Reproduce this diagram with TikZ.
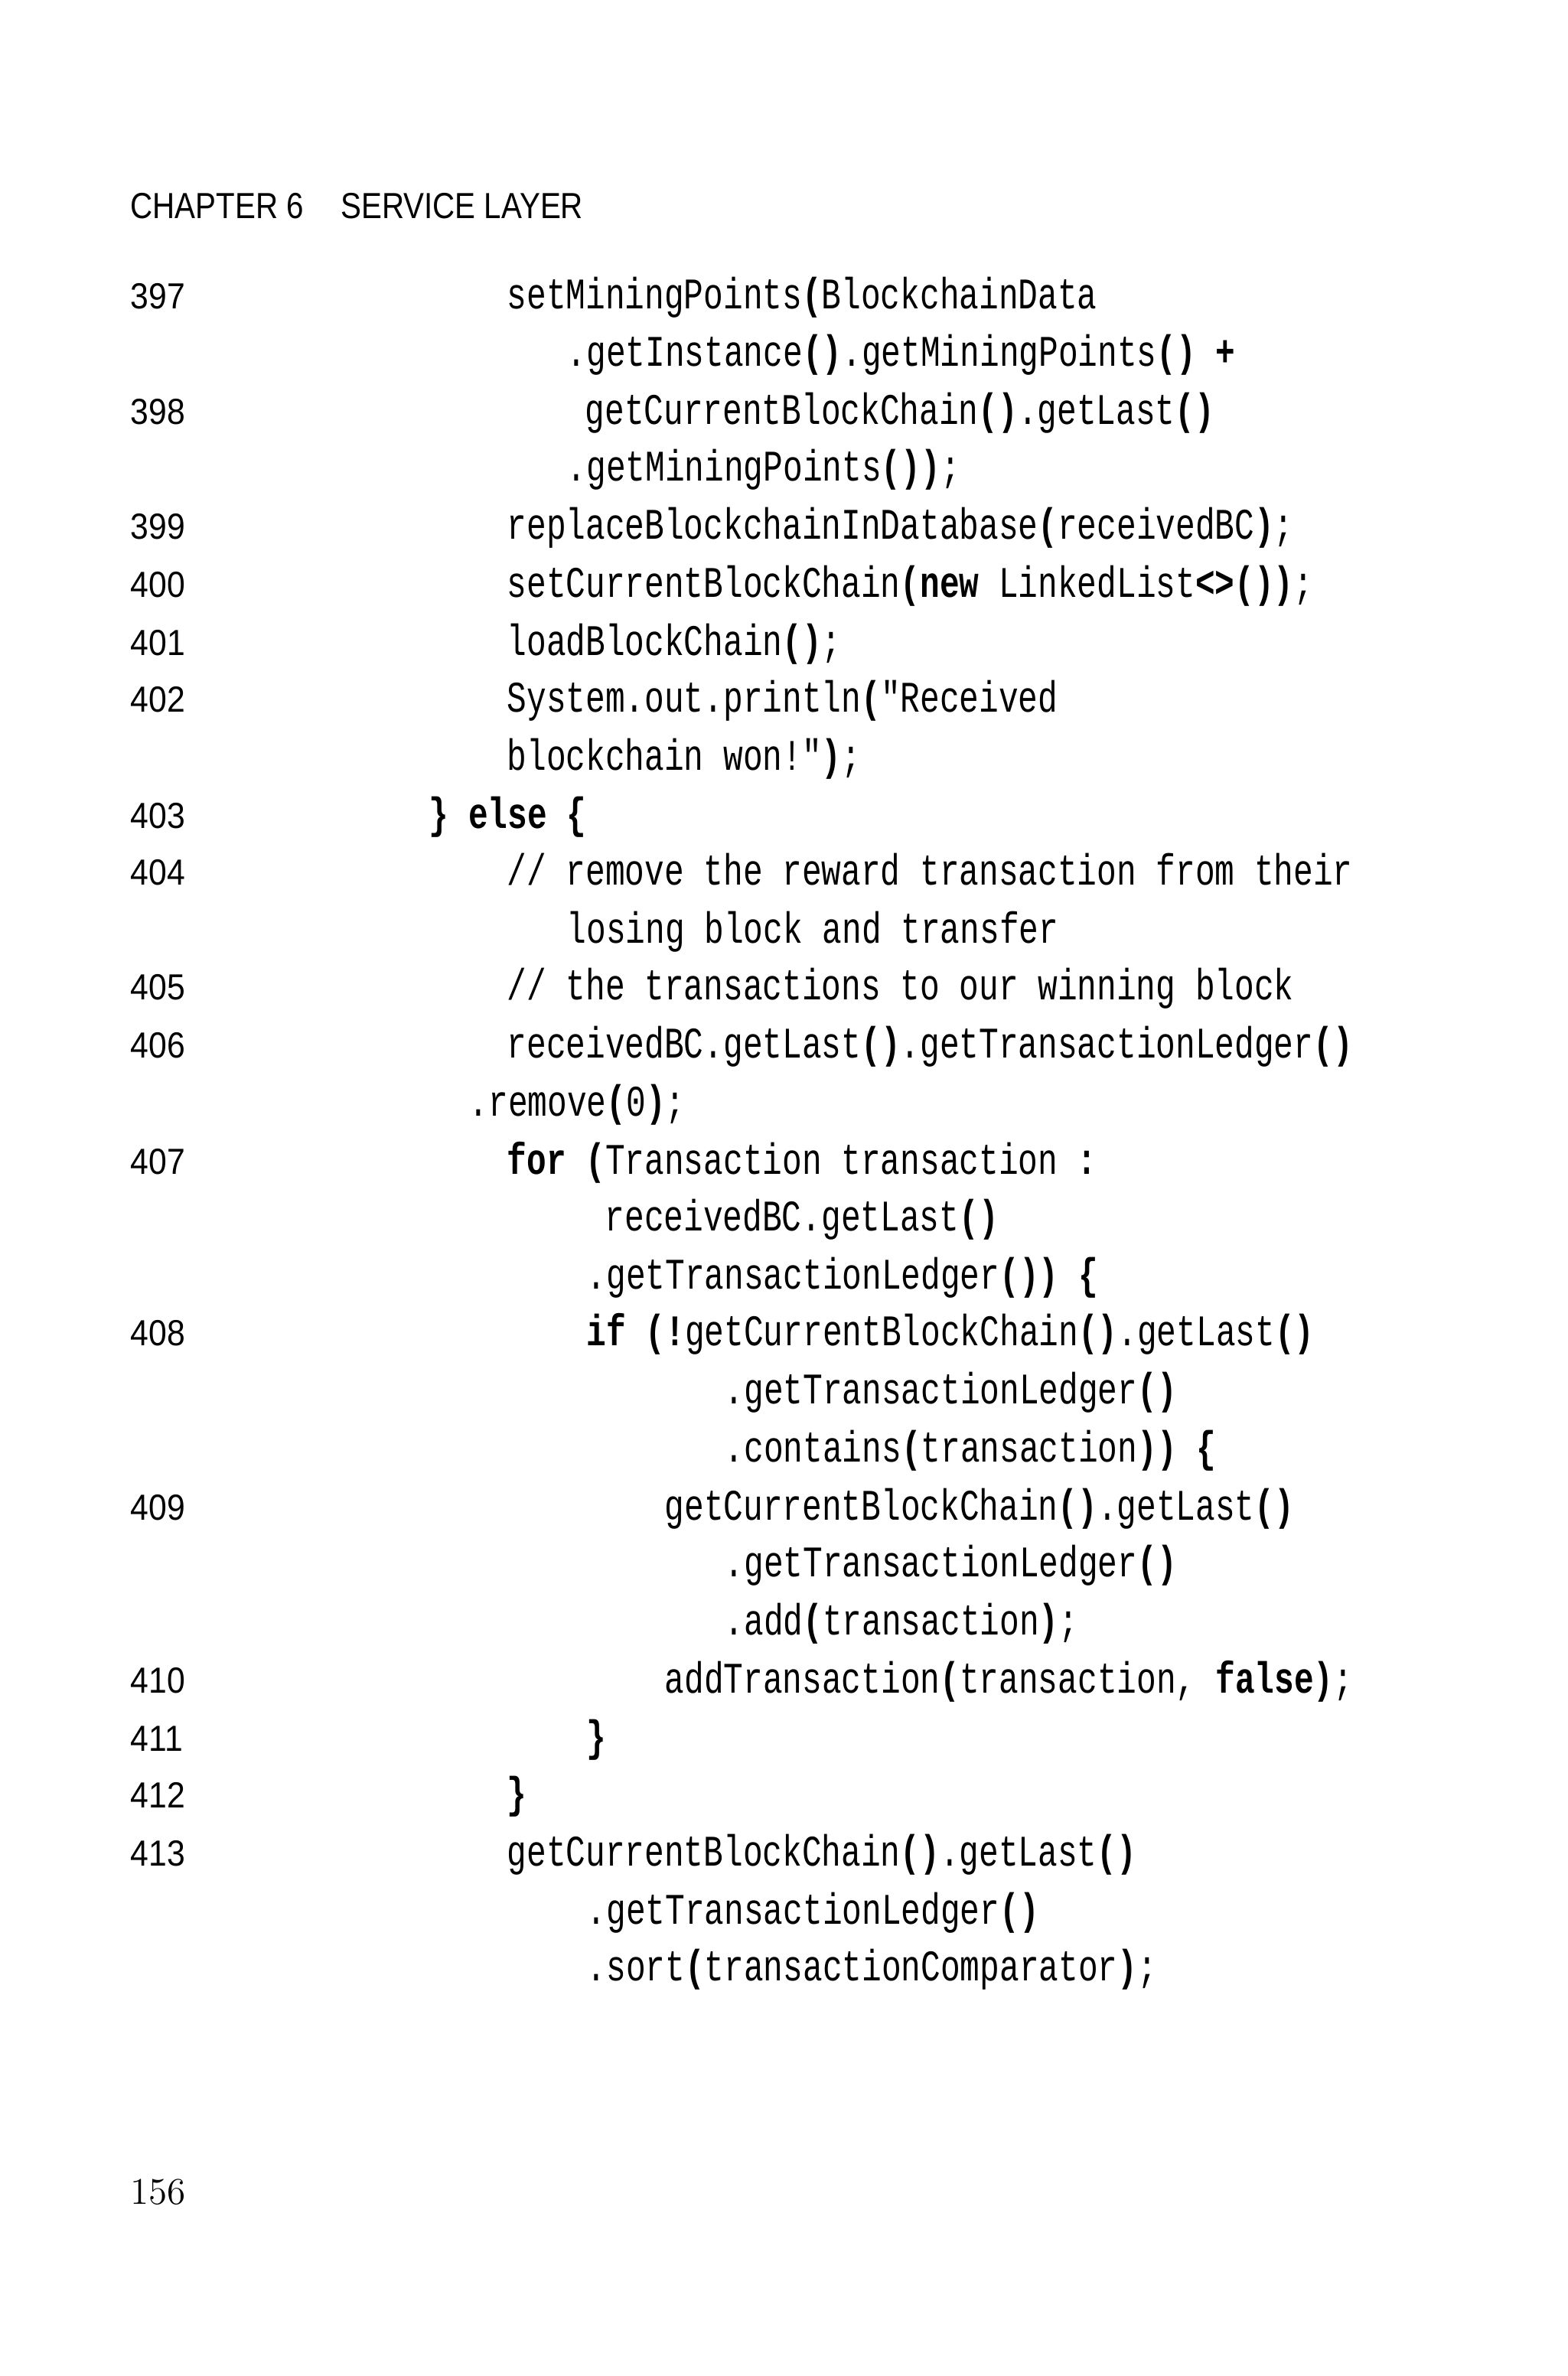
\documentclass[tikz,border=0pt]{standalone}
\usepackage{fontspec}
\newfontfamily\code{Liberation Mono}
\newfontfamily\sansf{Liberation Sans}
\newcommand\B[1]{\textbf{#1}}
\begin{document}
\begin{tikzpicture}[x=0.02cm,y=-0.02cm]
\tikzset{cd/.style={anchor=base west,inner sep=0pt,font=\code\fontsize{16.25}{18}\selectfont},
 num/.style={anchor=base west,inner sep=0pt,font=\sansf\fontsize{13.5}{16}\selectfont}}
\useasboundingbox (0,0) rectangle (1024,1552.5);
\newcommand\cl[4]{\node[cd] (#1) at (#2,#3+7) {\scalebox{0.75}[1]{#4}};}
\newcommand\nm[3]{\node[num] (#1) at (85,#2+7) {\scalebox{0.9}[1]{#3}};}
\node[anchor=base west,inner sep=0pt,font=\sansf\fontsize{13.5}{16}\selectfont] (hdr) at (85,143) {\scalebox{0.85}[1]{CHAPTER 6\hspace{1.2em}SERVICE LAYER}};
\nm{n397}{195}{397}\nm{n398}{270}{398}\nm{n399}{345}{399}\nm{n400}{383}{400}
\nm{n401}{421}{401}\nm{n402}{458}{402}\nm{n403}{534}{403}\nm{n404}{571}{404}
\nm{n405}{646}{405}\nm{n406}{684}{406}\nm{n407}{760}{407}\nm{n408}{872}{408}
\nm{n409}{986}{409}\nm{n410}{1099}{410}\nm{n411}{1137}{411}\nm{n412}{1174}{412}
\nm{n413}{1212}{413}
\cl{c1}{331}{195}{setMiningPoints\B{(}BlockchainData}
\cl{c2}{370}{232}{.getInstance\B{()}.getMiningPoints\B{() +}}
\cl{c3}{382}{270}{getCurrentBlockChain\B{()}.getLast\B{()}}
\cl{c4}{370}{307}{.getMiningPoints\B{())};}
\cl{c5}{331}{345}{replaceBlockchainInDatabase\B{(}receivedBC\B{)};}
\cl{c6}{331}{383}{setCurrentBlockChain\B{(new} LinkedList\B{<>())};}
\cl{c7}{331}{421}{loadBlockChain\B{()};}
\cl{c8}{331}{458}{System.out.println\B{(}"Received}
\cl{c9}{331}{496}{blockchain won!"\B{)};}
\cl{c10}{280}{534}{\B{\} else \{}}
\cl{c11}{331}{571}{// remove the reward transaction from their}
\cl{c12}{370}{609}{losing block and transfer}
\cl{c13}{331}{646}{// the transactions to our winning block}
\cl{c14}{331}{684}{receivedBC.getLast\B{()}.getTransactionLedger\B{()}}
\cl{c15}{306}{722}{.remove\B{(}0\B{)};}
\cl{c16}{331}{760}{\B{for (}Transaction transaction \B{:}}
\cl{c17}{395}{797}{receivedBC.getLast\B{()}}
\cl{c18}{383}{835}{.getTransactionLedger\B{()) \{}}
\cl{c19}{383}{872}{\B{if (!}getCurrentBlockChain\B{()}.getLast\B{()}}
\cl{c20}{473}{910}{.getTransactionLedger\B{()}}
\cl{c21}{473}{948}{.contains\B{(}transaction\B{)) \{}}
\cl{c22}{434}{986}{getCurrentBlockChain\B{()}.getLast\B{()}}
\cl{c23}{473}{1023}{.getTransactionLedger\B{()}}
\cl{c24}{473}{1061}{.add\B{(}transaction\B{)};}
\cl{c25}{434}{1099}{addTransaction\B{(}transaction, \B{false)};}
\cl{c26}{383}{1137}{\B{\}}}
\cl{c27}{331}{1174}{\B{\}}}
\cl{c28}{331}{1212}{getCurrentBlockChain\B{()}.getLast\B{()}}
\cl{c29}{383}{1250}{.getTransactionLedger\B{()}}
\cl{c30}{383}{1287}{.sort\B{(}transactionComparator\B{)};}
\node[anchor=base west,inner sep=0pt,font=\fontsize{14}{16}\selectfont] (pg) at (85,1440) {156};
\end{tikzpicture}
\end{document}
